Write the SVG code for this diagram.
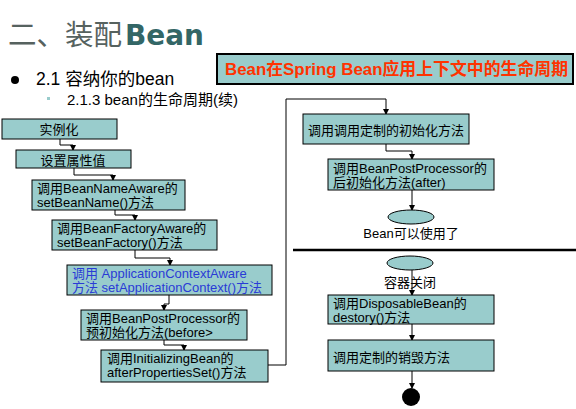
<svg xmlns="http://www.w3.org/2000/svg" width="576" height="409" viewBox="0 0 576 409">
  <defs>
    <marker id="arrow" markerWidth="6" markerHeight="6" refX="5" refY="3" orient="auto" markerUnits="userSpaceOnUse">
      <path d="M0,0 L6,3 L0,6 Z" fill="#000"/>
    </marker>
    <style>
      .box { fill: #99CCCC; stroke: #000; stroke-width: 1; }
      .lbl { font-family: "Liberation Sans", "Noto Sans CJK SC", sans-serif; font-size: 13px; fill: #000; }
      .blue { fill: #2a3bd6; }
      .conn { fill: none; stroke: #000; stroke-width: 1; }
      .cap { font-family: "Liberation Sans", "Noto Sans CJK SC", sans-serif; font-size: 13px; fill: #000; text-anchor: middle; }
    </style>
  </defs>
  <rect width="576" height="409" fill="#fff"/>

  <!-- heading -->
  <g id="heading">
    <text x="8" y="45" font-family="'Noto Sans CJK SC', sans-serif" font-size="28.5" fill="#56625f">二、装配</text>
    <text x="125" y="45" font-family="'DejaVu Sans', sans-serif" font-weight="bold" font-size="28" fill="#336666" textLength="79" lengthAdjust="spacingAndGlyphs">Bean</text>
  </g>
  <g id="bullets">
    <circle cx="15" cy="80" r="4" fill="#000"/>
    <text x="36" y="85" font-family="'Liberation Sans', 'Noto Sans CJK SC', sans-serif" font-size="17.5" fill="#000">2.1 容纳你的bean</text>
    <rect x="47" y="97" width="3" height="3" fill="#99CCCC"/>
    <text x="67" y="105" font-family="'Liberation Sans', 'Noto Sans CJK SC', sans-serif" font-size="15" fill="#000">2.1.3 bean的生命周期(续)</text>
  </g>

  <!-- banner -->
  <g id="banner">
    <rect x="217" y="54" width="356" height="30" fill="#99CCCC" stroke="#000" stroke-width="2"/>
    <text x="225" y="75" font-family="'Liberation Sans', 'Noto Sans CJK SC', sans-serif" font-weight="bold" font-size="16.5" fill="#FF3300" textLength="343" lengthAdjust="spacingAndGlyphs">Bean在Spring Bean应用上下文中的生命周期</text>
  </g>

  <!-- connectors -->
  <g id="connectors">
    <path class="conn" d="M60,139 V145 H73 V150" marker-end="url(#arrow)"/>
    <path class="conn" d="M74,168 V175 H113 V180" marker-end="url(#arrow)"/>
    <path class="conn" d="M115,210 V215 H135 V220" marker-end="url(#arrow)"/>
    <path class="conn" d="M135,250 V258 H170 V265" marker-end="url(#arrow)"/>
    <path class="conn" d="M169,295 V304 H164 V310" marker-end="url(#arrow)"/>
    <path class="conn" d="M164,340 V345 H184 V350" marker-end="url(#arrow)"/>
    <path class="conn" d="M268,365 H286 V99 H386 V114" marker-end="url(#arrow)"/>
    <path class="conn" d="M386,144 V151 H412 V159" marker-end="url(#arrow)"/>
    <path class="conn" d="M412,190 V210" marker-end="url(#arrow)"/>
    <path class="conn" d="M412,270 V295" marker-end="url(#arrow)"/>
    <path class="conn" d="M412,324 V340" marker-end="url(#arrow)"/>
    <path class="conn" d="M412,371 V388" marker-end="url(#arrow)"/>
  </g>

  <!-- separator -->
  <line x1="293" y1="250" x2="576" y2="250" stroke="#000" stroke-width="2.5"/>

  <!-- creation phase -->
  <g id="n-instantiate">
    <rect class="box" x="2" y="119" width="115" height="20"/>
    <text class="cap" x="59" y="134">实例化</text>
  </g>
  <g id="n-props">
    <rect class="box" x="16" y="150" width="115" height="18"/>
    <text class="cap" x="73" y="165">设置属性值</text>
  </g>
  <g id="n-beanname">
    <rect class="box" x="32" y="180" width="153" height="30"/>
    <text class="lbl" x="37" y="193">调用BeanNameAware的</text>
    <text class="lbl" x="37" y="207">setBeanName()方法</text>
  </g>
  <g id="n-factory">
    <rect class="box" x="52" y="220" width="165" height="30"/>
    <text class="lbl" x="57" y="233">调用BeanFactoryAware的</text>
    <text class="lbl" x="57" y="247">setBeanFactory()方法</text>
  </g>
  <g id="n-appctx">
    <rect class="box" x="67" y="265" width="205" height="30"/>
    <text class="lbl blue" x="72" y="278">调用 ApplicationContextAware</text>
    <text class="lbl blue" x="72" y="292">方法 setApplicationContext()方法</text>
  </g>
  <g id="n-before">
    <rect class="box" x="81" y="310" width="166" height="30"/>
    <text class="lbl" x="86" y="323">调用BeanPostProcessor的</text>
    <text class="lbl" x="86" y="337">预初始化方法(before&gt;</text>
  </g>
  <g id="n-initbean">
    <rect class="box" x="101" y="350" width="167" height="32"/>
    <text class="lbl" x="107" y="363">调用InitializingBean的</text>
    <text class="lbl" x="107" y="377">afterPropertiesSet()方法</text>
  </g>

  <!-- ready phase -->
  <g id="n-custominit">
    <rect class="box" x="303" y="114" width="166" height="30"/>
    <text class="lbl" x="308" y="135">调用调用定制的初始化方法</text>
  </g>
  <g id="n-after">
    <rect class="box" x="328" y="159" width="166" height="31"/>
    <text class="lbl" x="333" y="173">调用BeanPostProcessor的</text>
    <text class="lbl" x="333" y="187">后初始化方法(after)</text>
  </g>
  <g id="n-ready">
    <ellipse cx="411" cy="217" rx="23" ry="7" fill="#99CCCC" stroke="#000" stroke-width="1"/>
    <text class="cap" x="411" y="238">Bean可以使用了</text>
  </g>

  <!-- shutdown phase -->
  <g id="n-close">
    <ellipse cx="410" cy="263" rx="23" ry="7" fill="#99CCCC" stroke="#000" stroke-width="1"/>
    <text class="cap" x="410" y="287">容器关闭</text>
  </g>
  <g id="n-dispose">
    <rect class="box" x="328" y="295" width="166" height="29"/>
    <text class="lbl" x="333" y="308">调用DisposableBean的</text>
    <text class="lbl" x="333" y="322">destory()方法</text>
  </g>
  <g id="n-customdestroy">
    <rect class="box" x="328" y="340" width="166" height="31"/>
    <text class="lbl" x="333" y="362">调用定制的销毁方法</text>
  </g>
  <g id="n-end">
    <circle cx="411" cy="397" r="9" fill="#000"/>
  </g>
</svg>
